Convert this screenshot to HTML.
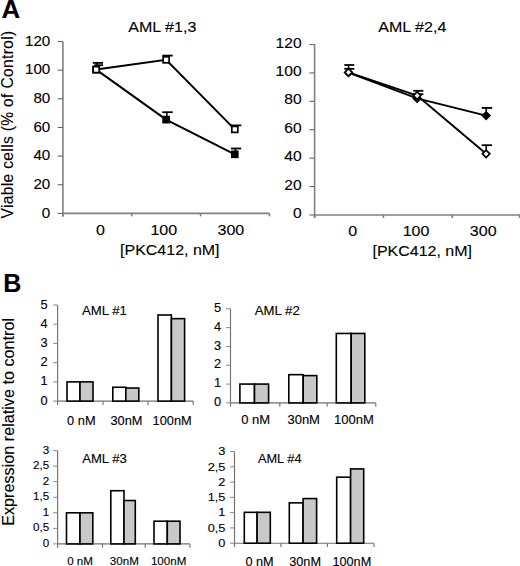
<!DOCTYPE html>
<html><head><meta charset="utf-8"><style>
html,body{margin:0;padding:0;background:#fff;width:520px;height:566px;overflow:hidden}
svg{display:block}
text{font-family:"Liberation Sans", sans-serif;fill:#000;stroke:#000;stroke-width:0.12px}
</style></head><body>
<svg width="520" height="566" viewBox="0 0 520 566">
<rect width="520" height="566" fill="#fff"/>
<text x="1.6" y="17.8" font-size="25.8" text-anchor="start" font-weight="bold" >A</text>
<text x="3.2" y="291.8" font-size="25" text-anchor="start" font-weight="bold" >B</text>
<line x1="62.9" y1="41.5" x2="62.9" y2="216.4" stroke="#808080" stroke-width="1.6"/>
<line x1="62.9" y1="213.4" x2="269.5" y2="213.4" stroke="#808080" stroke-width="1.6"/>
<line x1="57.699999999999996" y1="213.4" x2="62.9" y2="213.4" stroke="#666" stroke-width="1.1"/>
<text transform="translate(50.3,217.70000000000002) scale(1.04,1)" font-size="14.6" text-anchor="end" font-weight="normal" >0</text>
<line x1="57.699999999999996" y1="184.75" x2="62.9" y2="184.75" stroke="#666" stroke-width="1.1"/>
<text transform="translate(50.3,189.05) scale(1.04,1)" font-size="14.6" text-anchor="end" font-weight="normal" >20</text>
<line x1="57.699999999999996" y1="156.1" x2="62.9" y2="156.1" stroke="#666" stroke-width="1.1"/>
<text transform="translate(50.3,160.4) scale(1.04,1)" font-size="14.6" text-anchor="end" font-weight="normal" >40</text>
<line x1="57.699999999999996" y1="127.45" x2="62.9" y2="127.45" stroke="#666" stroke-width="1.1"/>
<text transform="translate(50.3,131.75) scale(1.04,1)" font-size="14.6" text-anchor="end" font-weight="normal" >60</text>
<line x1="57.699999999999996" y1="98.8" x2="62.9" y2="98.8" stroke="#666" stroke-width="1.1"/>
<text transform="translate(50.3,103.1) scale(1.04,1)" font-size="14.6" text-anchor="end" font-weight="normal" >80</text>
<line x1="57.699999999999996" y1="70.15" x2="62.9" y2="70.15" stroke="#666" stroke-width="1.1"/>
<text transform="translate(50.3,74.45) scale(1.04,1)" font-size="14.6" text-anchor="end" font-weight="normal" >100</text>
<line x1="57.699999999999996" y1="41.5" x2="62.9" y2="41.5" stroke="#666" stroke-width="1.1"/>
<text transform="translate(50.3,45.8) scale(1.04,1)" font-size="14.6" text-anchor="end" font-weight="normal" >120</text>
<line x1="62.9" y1="213.4" x2="62.9" y2="216.4" stroke="#808080" stroke-width="1.6"/>
<line x1="131.76666666666665" y1="213.4" x2="131.76666666666665" y2="216.4" stroke="#808080" stroke-width="1.6"/>
<line x1="200.63333333333333" y1="213.4" x2="200.63333333333333" y2="216.4" stroke="#808080" stroke-width="1.6"/>
<line x1="269.5" y1="213.4" x2="269.5" y2="216.4" stroke="#808080" stroke-width="1.6"/>
<text transform="translate(100.5,235.4) scale(1.1,1)" font-size="14.6" text-anchor="middle" font-weight="normal" >0</text>
<text transform="translate(163.8,235.4) scale(1.1,1)" font-size="14.6" text-anchor="middle" font-weight="normal" >100</text>
<text transform="translate(230.9,235.4) scale(1.1,1)" font-size="14.6" text-anchor="middle" font-weight="normal" >300</text>
<text transform="translate(169.8,255.3) scale(1.08,1)" font-size="14.8" text-anchor="middle" font-weight="normal" >[PKC412, nM]</text>
<text transform="translate(162.3,31.7) scale(1.07,1)" font-size="15" text-anchor="middle" font-weight="normal" >AML #1,3</text>
<line x1="314.6" y1="44.5" x2="314.6" y2="218.2" stroke="#808080" stroke-width="1.6"/>
<line x1="314.6" y1="215.0" x2="520" y2="215.0" stroke="#808080" stroke-width="1.6"/>
<line x1="309.40000000000003" y1="215.0" x2="314.6" y2="215.0" stroke="#666" stroke-width="1.1"/>
<text transform="translate(301.6,218.0) scale(1.07,1)" font-size="14.6" text-anchor="end" font-weight="normal" >0</text>
<line x1="309.40000000000003" y1="186.58333333333334" x2="314.6" y2="186.58333333333334" stroke="#666" stroke-width="1.1"/>
<text transform="translate(301.6,189.58333333333334) scale(1.07,1)" font-size="14.6" text-anchor="end" font-weight="normal" >20</text>
<line x1="309.40000000000003" y1="158.16666666666666" x2="314.6" y2="158.16666666666666" stroke="#666" stroke-width="1.1"/>
<text transform="translate(301.6,161.16666666666666) scale(1.07,1)" font-size="14.6" text-anchor="end" font-weight="normal" >40</text>
<line x1="309.40000000000003" y1="129.75" x2="314.6" y2="129.75" stroke="#666" stroke-width="1.1"/>
<text transform="translate(301.6,132.75) scale(1.07,1)" font-size="14.6" text-anchor="end" font-weight="normal" >60</text>
<line x1="309.40000000000003" y1="101.33333333333333" x2="314.6" y2="101.33333333333333" stroke="#666" stroke-width="1.1"/>
<text transform="translate(301.6,104.33333333333333) scale(1.07,1)" font-size="14.6" text-anchor="end" font-weight="normal" >80</text>
<line x1="309.40000000000003" y1="72.91666666666666" x2="314.6" y2="72.91666666666666" stroke="#666" stroke-width="1.1"/>
<text transform="translate(301.6,75.91666666666666) scale(1.07,1)" font-size="14.6" text-anchor="end" font-weight="normal" >100</text>
<line x1="309.40000000000003" y1="44.5" x2="314.6" y2="44.5" stroke="#666" stroke-width="1.1"/>
<text transform="translate(301.6,47.5) scale(1.07,1)" font-size="14.6" text-anchor="end" font-weight="normal" >120</text>
<line x1="314.6" y1="215.0" x2="314.6" y2="218.0" stroke="#808080" stroke-width="1.6"/>
<line x1="383.40000000000003" y1="215.0" x2="383.40000000000003" y2="218.0" stroke="#808080" stroke-width="1.6"/>
<line x1="452.20000000000005" y1="215.0" x2="452.20000000000005" y2="218.0" stroke="#808080" stroke-width="1.6"/>
<line x1="519.6" y1="215.0" x2="519.6" y2="218.0" stroke="#808080" stroke-width="1.6"/>
<text transform="translate(352.8,235.6) scale(1.1,1)" font-size="14.6" text-anchor="middle" font-weight="normal" >0</text>
<text transform="translate(416.0,235.6) scale(1.1,1)" font-size="14.6" text-anchor="middle" font-weight="normal" >100</text>
<text transform="translate(483.2,235.6) scale(1.1,1)" font-size="14.6" text-anchor="middle" font-weight="normal" >300</text>
<text transform="translate(422.2,255.6) scale(1.08,1)" font-size="14.8" text-anchor="middle" font-weight="normal" >[PKC412, nM]</text>
<text transform="translate(412.3,32.2) scale(1.07,1)" font-size="15" text-anchor="middle" font-weight="normal" >AML #2,4</text>
<polyline points="96.2,69.6 166.1,119.6 234.8,154.3" fill="none" stroke="#000" stroke-width="2.0"/>
<polyline points="96.2,69.6 166.1,59.8 234.8,129.4" fill="none" stroke="#000" stroke-width="2.0"/>
<line x1="92.80000000000001" y1="62.9" x2="103.0" y2="62.9" stroke="#000" stroke-width="1.8"/>
<line x1="97.2" y1="62.9" x2="97.2" y2="69" stroke="#000" stroke-width="1.6"/>
<line x1="94.3" y1="65.2" x2="103.10000000000001" y2="65.2" stroke="#000" stroke-width="1.8"/>
<line x1="98.0" y1="65.2" x2="98.0" y2="69" stroke="#000" stroke-width="1.6"/>
<line x1="162.3" y1="55.6" x2="172.7" y2="55.6" stroke="#000" stroke-width="1.8"/>
<line x1="166.8" y1="55.6" x2="166.8" y2="59" stroke="#000" stroke-width="1.6"/>
<line x1="162.3" y1="112.2" x2="172.7" y2="112.2" stroke="#000" stroke-width="1.8"/>
<line x1="166.8" y1="112.2" x2="166.8" y2="119" stroke="#000" stroke-width="1.6"/>
<line x1="230.9" y1="125.4" x2="241.29999999999998" y2="125.4" stroke="#000" stroke-width="1.8"/>
<line x1="235.4" y1="125.4" x2="235.4" y2="129" stroke="#000" stroke-width="1.6"/>
<line x1="230.9" y1="148.5" x2="241.29999999999998" y2="148.5" stroke="#000" stroke-width="1.8"/>
<line x1="235.4" y1="148.5" x2="235.4" y2="154" stroke="#000" stroke-width="1.6"/>
<rect x="93.2" y="66.6" width="6.0" height="6.0" fill="#000" stroke="#000" stroke-width="1.7"/>
<rect x="163.1" y="116.6" width="6.0" height="6.0" fill="#000" stroke="#000" stroke-width="1.7"/>
<rect x="231.8" y="151.3" width="6.0" height="6.0" fill="#000" stroke="#000" stroke-width="1.7"/>
<rect x="93.2" y="66.6" width="6.0" height="6.0" fill="#fff" stroke="#000" stroke-width="1.7"/>
<rect x="163.1" y="56.8" width="6.0" height="6.0" fill="#fff" stroke="#000" stroke-width="1.7"/>
<rect x="231.8" y="126.4" width="6.0" height="6.0" fill="#fff" stroke="#000" stroke-width="1.7"/>
<polyline points="348.5,72.6 417.1,98.4 486.1,115.6" fill="none" stroke="#000" stroke-width="2.0"/>
<polyline points="348.5,72.4 417.1,95.6 486.1,153.8" fill="none" stroke="#000" stroke-width="2.0"/>
<line x1="344.3" y1="65" x2="354.3" y2="65" stroke="#000" stroke-width="1.8"/>
<line x1="348.6" y1="65" x2="348.6" y2="72" stroke="#000" stroke-width="1.6"/>
<line x1="344.3" y1="68.8" x2="354.3" y2="68.8" stroke="#000" stroke-width="1.8"/>
<line x1="348.6" y1="68.8" x2="348.6" y2="72" stroke="#000" stroke-width="1.6"/>
<line x1="413.2" y1="90.8" x2="423.40000000000003" y2="90.8" stroke="#000" stroke-width="1.8"/>
<line x1="417.6" y1="90.8" x2="417.6" y2="96" stroke="#000" stroke-width="1.6"/>
<line x1="413.2" y1="94.2" x2="423.40000000000003" y2="94.2" stroke="#000" stroke-width="1.8"/>
<line x1="417.6" y1="94.2" x2="417.6" y2="96" stroke="#000" stroke-width="1.6"/>
<line x1="481.7" y1="107.9" x2="492.09999999999997" y2="107.9" stroke="#000" stroke-width="1.8"/>
<line x1="486.2" y1="107.9" x2="486.2" y2="115" stroke="#000" stroke-width="1.6"/>
<line x1="481.7" y1="145.2" x2="492.09999999999997" y2="145.2" stroke="#000" stroke-width="1.8"/>
<line x1="486.2" y1="145.2" x2="486.2" y2="153" stroke="#000" stroke-width="1.6"/>
<polygon points="348.5,68.89999999999999 352.2,72.6 348.5,76.3 344.8,72.6" fill="#000" stroke="#000" stroke-width="1.7"/>
<polygon points="417.1,94.7 420.8,98.4 417.1,102.10000000000001 413.40000000000003,98.4" fill="#000" stroke="#000" stroke-width="1.7"/>
<polygon points="486.1,111.89999999999999 489.8,115.6 486.1,119.3 482.40000000000003,115.6" fill="#000" stroke="#000" stroke-width="1.7"/>
<polygon points="348.5,68.7 352.2,72.4 348.5,76.10000000000001 344.8,72.4" fill="#fff" stroke="#000" stroke-width="1.7"/>
<polygon points="417.1,91.89999999999999 420.8,95.6 417.1,99.3 413.40000000000003,95.6" fill="#fff" stroke="#000" stroke-width="1.7"/>
<polygon points="486.1,150.10000000000002 489.8,153.8 486.1,157.5 482.40000000000003,153.8" fill="#fff" stroke="#000" stroke-width="1.7"/>
<line x1="57.6" y1="305.0" x2="57.6" y2="404.90000000000003" stroke="#707070" stroke-width="1.15"/>
<line x1="57.6" y1="401.1" x2="193.2" y2="401.1" stroke="#707070" stroke-width="1.15"/>
<line x1="53.1" y1="401.1" x2="57.6" y2="401.1" stroke="#888" stroke-width="1.0"/>
<text x="47.6" y="404.6" font-size="12.8" text-anchor="end" font-weight="normal" >0</text>
<line x1="53.1" y1="381.88" x2="57.6" y2="381.88" stroke="#888" stroke-width="1.0"/>
<text x="47.6" y="385.38" font-size="12.8" text-anchor="end" font-weight="normal" >1</text>
<line x1="53.1" y1="362.66" x2="57.6" y2="362.66" stroke="#888" stroke-width="1.0"/>
<text x="47.6" y="366.16" font-size="12.8" text-anchor="end" font-weight="normal" >2</text>
<line x1="53.1" y1="343.44" x2="57.6" y2="343.44" stroke="#888" stroke-width="1.0"/>
<text x="47.6" y="346.94" font-size="12.8" text-anchor="end" font-weight="normal" >3</text>
<line x1="53.1" y1="324.22" x2="57.6" y2="324.22" stroke="#888" stroke-width="1.0"/>
<text x="47.6" y="327.72" font-size="12.8" text-anchor="end" font-weight="normal" >4</text>
<line x1="53.1" y1="305.0" x2="57.6" y2="305.0" stroke="#888" stroke-width="1.0"/>
<text x="47.6" y="308.5" font-size="12.8" text-anchor="end" font-weight="normal" >5</text>
<line x1="103.0" y1="401.1" x2="103.0" y2="404.90000000000003" stroke="#707070" stroke-width="1.1"/>
<line x1="148.0" y1="401.1" x2="148.0" y2="404.90000000000003" stroke="#707070" stroke-width="1.1"/>
<line x1="193.2" y1="401.1" x2="193.2" y2="404.90000000000003" stroke="#707070" stroke-width="1.1"/>
<rect x="67.0" y="381.88" width="13.0" height="19.220000000000006" fill="#fff" stroke="#000" stroke-width="1.6"/>
<rect x="80.0" y="381.88" width="13.0" height="19.220000000000006" fill="#c8c8c8" stroke="#000" stroke-width="1.6"/>
<rect x="112.8" y="387.26160000000004" width="13.0" height="13.838400000000004" fill="#fff" stroke="#000" stroke-width="1.6"/>
<rect x="125.8" y="388.03040000000004" width="13.000000000000014" height="13.069600000000005" fill="#c8c8c8" stroke="#000" stroke-width="1.6"/>
<rect x="158.0" y="314.9944" width="13.400000000000006" height="86.10560000000004" fill="#fff" stroke="#000" stroke-width="1.6"/>
<rect x="171.4" y="318.6462" width="13.199999999999989" height="82.45380000000003" fill="#c8c8c8" stroke="#000" stroke-width="1.6"/>
<text x="67.1" y="424.7" font-size="12.8" text-anchor="start" font-weight="normal" >0 nM</text>
<text x="110.5" y="424.7" font-size="12.8" text-anchor="start" font-weight="normal" >30nM</text>
<text x="152.6" y="424.7" font-size="12.8" text-anchor="start" font-weight="normal" >100nM</text>
<text transform="translate(82.0,314.7) scale(1.03,1)" font-size="12.8" text-anchor="start" font-weight="normal" >AML #1</text>
<line x1="230.5" y1="308.8" x2="230.5" y2="406.7" stroke="#707070" stroke-width="1.15"/>
<line x1="230.5" y1="402.9" x2="375.8" y2="402.9" stroke="#707070" stroke-width="1.15"/>
<line x1="226.0" y1="402.9" x2="230.5" y2="402.9" stroke="#888" stroke-width="1.0"/>
<text transform="translate(221.2,406.0) scale(1.05,1)" font-size="12.2" text-anchor="end" font-weight="normal" >0</text>
<line x1="226.0" y1="384.08" x2="230.5" y2="384.08" stroke="#888" stroke-width="1.0"/>
<text transform="translate(221.2,387.18) scale(1.05,1)" font-size="12.2" text-anchor="end" font-weight="normal" >1</text>
<line x1="226.0" y1="365.26" x2="230.5" y2="365.26" stroke="#888" stroke-width="1.0"/>
<text transform="translate(221.2,368.36) scale(1.05,1)" font-size="12.2" text-anchor="end" font-weight="normal" >2</text>
<line x1="226.0" y1="346.44" x2="230.5" y2="346.44" stroke="#888" stroke-width="1.0"/>
<text transform="translate(221.2,349.54) scale(1.05,1)" font-size="12.2" text-anchor="end" font-weight="normal" >3</text>
<line x1="226.0" y1="327.62" x2="230.5" y2="327.62" stroke="#888" stroke-width="1.0"/>
<text transform="translate(221.2,330.72) scale(1.05,1)" font-size="12.2" text-anchor="end" font-weight="normal" >4</text>
<line x1="226.0" y1="308.8" x2="230.5" y2="308.8" stroke="#888" stroke-width="1.0"/>
<text transform="translate(221.2,311.9) scale(1.05,1)" font-size="12.2" text-anchor="end" font-weight="normal" >5</text>
<line x1="279.8" y1="402.9" x2="279.8" y2="406.7" stroke="#707070" stroke-width="1.1"/>
<line x1="327.2" y1="402.9" x2="327.2" y2="406.7" stroke="#707070" stroke-width="1.1"/>
<line x1="375.8" y1="402.9" x2="375.8" y2="406.7" stroke="#707070" stroke-width="1.1"/>
<rect x="239.9" y="384.08" width="14.599999999999994" height="18.819999999999993" fill="#fff" stroke="#000" stroke-width="1.6"/>
<rect x="254.5" y="384.08" width="14.100000000000023" height="18.819999999999993" fill="#c8c8c8" stroke="#000" stroke-width="1.6"/>
<rect x="288.8" y="374.66999999999996" width="14.399999999999977" height="28.22999999999999" fill="#fff" stroke="#000" stroke-width="1.6"/>
<rect x="303.2" y="375.611" width="13.600000000000023" height="27.28899999999999" fill="#c8c8c8" stroke="#000" stroke-width="1.6"/>
<rect x="336.3" y="333.4542" width="14.899999999999977" height="69.44579999999998" fill="#fff" stroke="#000" stroke-width="1.6"/>
<rect x="351.2" y="333.4542" width="13.600000000000023" height="69.44579999999998" fill="#c8c8c8" stroke="#000" stroke-width="1.6"/>
<text transform="translate(241.2,424.3) scale(1.06,1)" font-size="12.3" text-anchor="start" font-weight="normal" >0 nM</text>
<text transform="translate(287.4,424.3) scale(1.06,1)" font-size="12.3" text-anchor="start" font-weight="normal" >30nM</text>
<text transform="translate(334.0,424.3) scale(1.06,1)" font-size="12.3" text-anchor="start" font-weight="normal" >100nM</text>
<text transform="translate(254.8,314.7) scale(1.03,1)" font-size="12.8" text-anchor="start" font-weight="normal" >AML #2</text>
<line x1="57.6" y1="450.6" x2="57.6" y2="547.6999999999999" stroke="#707070" stroke-width="1.15"/>
<line x1="57.6" y1="543.9" x2="189.9" y2="543.9" stroke="#707070" stroke-width="1.15"/>
<line x1="53.1" y1="543.9" x2="57.6" y2="543.9" stroke="#888" stroke-width="1.0"/>
<text x="49.2" y="546.8" font-size="11.6" text-anchor="end" font-weight="normal" >0</text>
<line x1="53.1" y1="528.35" x2="57.6" y2="528.35" stroke="#888" stroke-width="1.0"/>
<text x="49.2" y="531.25" font-size="11.6" text-anchor="end" font-weight="normal" >0,5</text>
<line x1="53.1" y1="512.8" x2="57.6" y2="512.8" stroke="#888" stroke-width="1.0"/>
<text x="49.2" y="515.7" font-size="11.6" text-anchor="end" font-weight="normal" >1</text>
<line x1="53.1" y1="497.25" x2="57.6" y2="497.25" stroke="#888" stroke-width="1.0"/>
<text x="49.2" y="500.15" font-size="11.6" text-anchor="end" font-weight="normal" >1,5</text>
<line x1="53.1" y1="481.7" x2="57.6" y2="481.7" stroke="#888" stroke-width="1.0"/>
<text x="49.2" y="484.6" font-size="11.6" text-anchor="end" font-weight="normal" >2</text>
<line x1="53.1" y1="466.15000000000003" x2="57.6" y2="466.15000000000003" stroke="#888" stroke-width="1.0"/>
<text x="49.2" y="469.05" font-size="11.6" text-anchor="end" font-weight="normal" >2,5</text>
<line x1="53.1" y1="450.6" x2="57.6" y2="450.6" stroke="#888" stroke-width="1.0"/>
<text x="49.2" y="453.5" font-size="11.6" text-anchor="end" font-weight="normal" >3</text>
<line x1="102.5" y1="543.9" x2="102.5" y2="547.6999999999999" stroke="#707070" stroke-width="1.1"/>
<line x1="145.2" y1="543.9" x2="145.2" y2="547.6999999999999" stroke="#707070" stroke-width="1.1"/>
<line x1="189.9" y1="543.9" x2="189.9" y2="547.6999999999999" stroke="#707070" stroke-width="1.1"/>
<rect x="66.5" y="512.8" width="13.5" height="31.099999999999984" fill="#fff" stroke="#000" stroke-width="1.6"/>
<rect x="80.0" y="512.8" width="12.799999999999997" height="31.099999999999984" fill="#c8c8c8" stroke="#000" stroke-width="1.6"/>
<rect x="110.8" y="490.719" width="13.200000000000003" height="53.18099999999997" fill="#fff" stroke="#000" stroke-width="1.6"/>
<rect x="124.0" y="500.5155" width="11.300000000000011" height="43.384499999999974" fill="#c8c8c8" stroke="#000" stroke-width="1.6"/>
<rect x="154.0" y="521.197" width="13.300000000000011" height="22.70299999999999" fill="#fff" stroke="#000" stroke-width="1.6"/>
<rect x="167.3" y="521.197" width="12.699999999999989" height="22.70299999999999" fill="#c8c8c8" stroke="#000" stroke-width="1.6"/>
<text x="67.2" y="565.4" font-size="11.6" text-anchor="start" font-weight="normal" >0 nM</text>
<text x="109.8" y="565.4" font-size="11.6" text-anchor="start" font-weight="normal" >30nM</text>
<text x="150.9" y="565.4" font-size="11.6" text-anchor="start" font-weight="normal" >100nM</text>
<text transform="translate(82.2,463.1) scale(1.025,1)" font-size="12.8" text-anchor="start" font-weight="normal" >AML #3</text>
<line x1="234.5" y1="451.5" x2="234.5" y2="547.0" stroke="#707070" stroke-width="1.15"/>
<line x1="234.5" y1="543.2" x2="373.9" y2="543.2" stroke="#707070" stroke-width="1.15"/>
<line x1="230.0" y1="543.2" x2="234.5" y2="543.2" stroke="#888" stroke-width="1.0"/>
<text transform="translate(225.4,547.0) scale(1.1,1)" font-size="11.6" text-anchor="end" font-weight="normal" >0</text>
<line x1="230.0" y1="527.9166666666667" x2="234.5" y2="527.9166666666667" stroke="#888" stroke-width="1.0"/>
<text transform="translate(225.4,531.72) scale(1.1,1)" font-size="11.6" text-anchor="end" font-weight="normal" >0,5</text>
<line x1="230.0" y1="512.6333333333333" x2="234.5" y2="512.6333333333333" stroke="#888" stroke-width="1.0"/>
<text transform="translate(225.4,516.43) scale(1.1,1)" font-size="11.6" text-anchor="end" font-weight="normal" >1</text>
<line x1="230.0" y1="497.35" x2="234.5" y2="497.35" stroke="#888" stroke-width="1.0"/>
<text transform="translate(225.4,501.15) scale(1.1,1)" font-size="11.6" text-anchor="end" font-weight="normal" >1,5</text>
<line x1="230.0" y1="482.06666666666666" x2="234.5" y2="482.06666666666666" stroke="#888" stroke-width="1.0"/>
<text transform="translate(225.4,485.87) scale(1.1,1)" font-size="11.6" text-anchor="end" font-weight="normal" >2</text>
<line x1="230.0" y1="466.78333333333336" x2="234.5" y2="466.78333333333336" stroke="#888" stroke-width="1.0"/>
<text transform="translate(225.4,470.58) scale(1.1,1)" font-size="11.6" text-anchor="end" font-weight="normal" >2,5</text>
<line x1="230.0" y1="451.5" x2="234.5" y2="451.5" stroke="#888" stroke-width="1.0"/>
<text transform="translate(225.4,455.3) scale(1.1,1)" font-size="11.6" text-anchor="end" font-weight="normal" >3</text>
<line x1="280.9" y1="543.2" x2="280.9" y2="547.0" stroke="#707070" stroke-width="1.1"/>
<line x1="327.4" y1="543.2" x2="327.4" y2="547.0" stroke="#707070" stroke-width="1.1"/>
<line x1="373.9" y1="543.2" x2="373.9" y2="547.0" stroke="#707070" stroke-width="1.1"/>
<rect x="244.3" y="512.3276666666667" width="12.800000000000011" height="30.872333333333348" fill="#fff" stroke="#000" stroke-width="1.6"/>
<rect x="257.1" y="512.3276666666667" width="13.199999999999989" height="30.872333333333348" fill="#c8c8c8" stroke="#000" stroke-width="1.6"/>
<rect x="289.3" y="502.85200000000003" width="13.800000000000011" height="40.34800000000002" fill="#fff" stroke="#000" stroke-width="1.6"/>
<rect x="303.1" y="498.5726666666667" width="13.5" height="44.627333333333354" fill="#c8c8c8" stroke="#000" stroke-width="1.6"/>
<rect x="336.7" y="477.17600000000004" width="13.900000000000034" height="66.02400000000003" fill="#fff" stroke="#000" stroke-width="1.6"/>
<rect x="350.6" y="468.923" width="13.099999999999966" height="74.27700000000004" fill="#c8c8c8" stroke="#000" stroke-width="1.6"/>
<text transform="translate(245.4,565.6) scale(1.06,1)" font-size="12.0" text-anchor="start" font-weight="normal" >0 nM</text>
<text transform="translate(289.2,565.6) scale(1.06,1)" font-size="12.0" text-anchor="start" font-weight="normal" >30nM</text>
<text transform="translate(332.4,565.6) scale(1.06,1)" font-size="12.0" text-anchor="start" font-weight="normal" >100nM</text>
<text x="257.9" y="462.8" font-size="12.8" text-anchor="start" font-weight="normal" >AML #4</text>
<text transform="translate(13.2,218.5) rotate(-90)" font-size="15.6" letter-spacing="0.33">Viable cells (% of Control)</text>
<text transform="translate(14.4,525.8) rotate(-90)" font-size="16.2">Expression relative to control</text>
</svg>
</body></html>
